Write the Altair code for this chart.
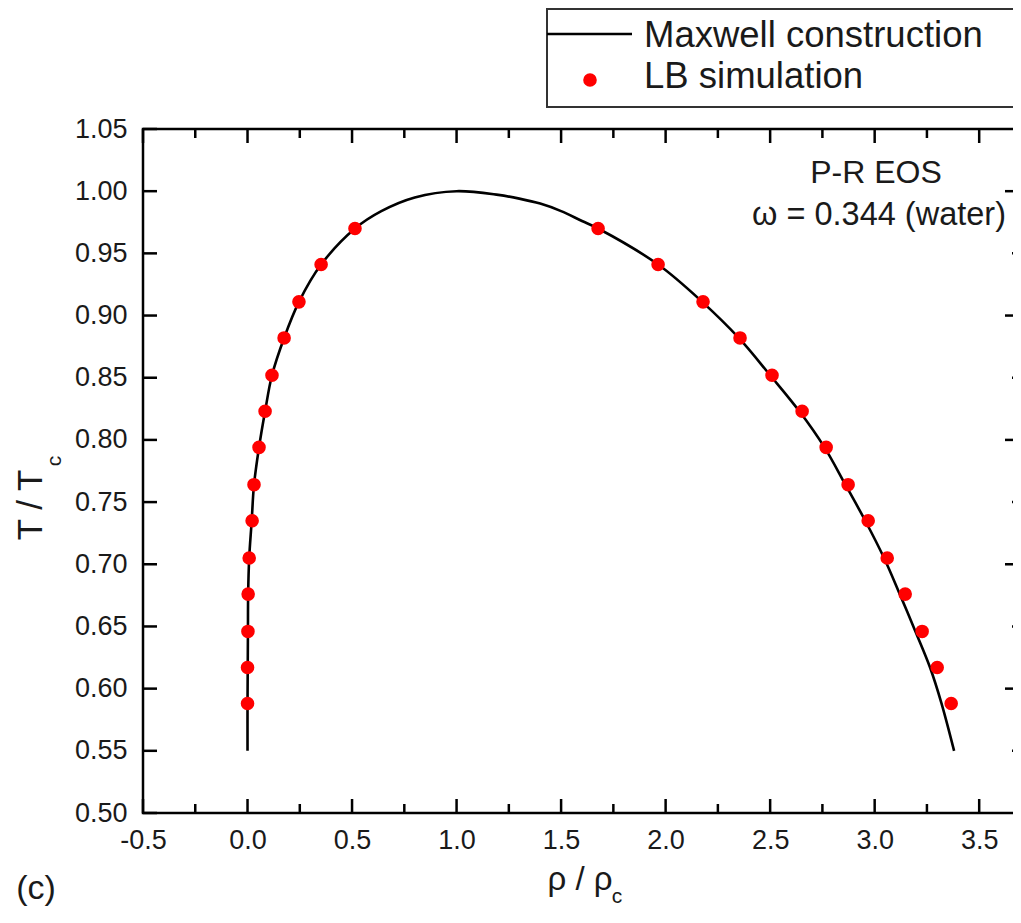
import altair as alt
import pandas as pd

# Maxwell construction curve (rho/rho_c, T/T_c), ordered along the path
rho_curve = [0.000, 0.000, 0.001, 0.002, 0.003, 0.008, 0.020, 0.031, 0.055, 0.084,
             0.117, 0.175, 0.246, 0.352, 0.514, 0.640, 0.800, 1.000, 1.200, 1.300,
             1.400, 1.500, 1.600, 1.677, 1.964, 2.175, 2.350, 2.500, 2.640, 2.760,
             2.860, 2.955, 3.045, 3.120, 3.195, 3.265, 3.320, 3.380]
T_curve = [0.550, 0.588, 0.617, 0.646, 0.676, 0.705, 0.735, 0.764, 0.794, 0.823,
           0.852, 0.882, 0.911, 0.941, 0.970, 0.984, 0.995, 1.000, 0.997, 0.994,
           0.990, 0.984, 0.976, 0.970, 0.941, 0.911, 0.882, 0.852, 0.823, 0.794,
           0.764, 0.735, 0.705, 0.676, 0.646, 0.617, 0.588, 0.550]

# LB simulation points
dot_T = [0.970, 0.941, 0.911, 0.882, 0.852, 0.823, 0.794, 0.764, 0.735, 0.705,
         0.676, 0.646, 0.617, 0.588]
dot_rho_left = [0.514, 0.352, 0.246, 0.175, 0.117, 0.084, 0.055, 0.031, 0.022, 0.008,
                0.003, 0.002, 0.000, 0.000]
dot_rho_right = [1.677, 1.964, 2.179, 2.356, 2.509, 2.653, 2.768, 2.873, 2.969, 3.060,
                 3.146, 3.227, 3.299, 3.366]

# tick positions
x_major = [-0.5, 0.0, 0.5, 1.0, 1.5, 2.0, 2.5, 3.0, 3.5]
x_minor = [-0.25, 0.25, 0.75, 1.25, 1.75, 2.25, 2.75, 3.25]
y_left_ticks = [0.50, 0.55, 0.60, 0.65, 0.70, 0.75, 0.80, 0.85, 0.90, 0.95, 1.00, 1.05]
y_right_major = [0.6, 0.7, 0.8, 0.9, 1.0]
y_right_minor = [0.55, 0.65, 0.75, 0.85, 0.95]

W, H = 878, 684
FONT = "Liberation Sans"
INK = "#1a1a1a"

curve_df = pd.DataFrame({"rho": rho_curve, "T": T_curve,
                         "order": list(range(len(rho_curve)))})
dots_df = pd.DataFrame({"rho": dot_rho_left + dot_rho_right, "T": dot_T + dot_T})
one = pd.DataFrame({"k": [0]})

xs = alt.Scale(domain=[-0.5, 3.7], nice=False, zero=False)
ys = alt.Scale(domain=[0.5, 1.05], nice=False, zero=False)

curve = alt.Chart(curve_df).mark_line(
    color="black", strokeWidth=2.6, interpolate="catmull-rom"
).encode(
    x=alt.X("rho:Q", scale=xs,
            axis=alt.Axis(values=x_major, format=".1f", title=None, ticks=False,
                          domain=False, grid=False, labelPadding=14,
                          labelExpr="replace(datum.label, '\u2212', '-')")),
    y=alt.Y("T:Q", scale=ys,
            axis=alt.Axis(values=y_left_ticks, format=".2f", title=None, ticks=False,
                          domain=False, grid=False, labelPadding=16)),
    order="order:Q",
)

dots = alt.Chart(dots_df).mark_circle(color="#ff0000", opacity=1, size=185).encode(
    x=alt.X("rho:Q", scale=xs),
    y=alt.Y("T:Q", scale=ys),
)


def xticks(vals, y0, y1):
    return alt.Chart(pd.DataFrame({"v": vals})).mark_rule(
        color="black", strokeWidth=2.5
    ).encode(x=alt.X("v:Q", scale=xs), y=alt.value(y0), y2=alt.value(y1))


def yticks(vals, x0, x1):
    return alt.Chart(pd.DataFrame({"v": vals})).mark_rule(
        color="black", strokeWidth=2.5
    ).encode(y=alt.Y("v:Q", scale=ys), x=alt.value(x0), x2=alt.value(x1))


tick_layers = [
    xticks(x_major, H, H - 14),
    xticks(x_minor, H, H - 9),
    xticks(x_major, 0, 14),
    xticks(x_minor, 0, 9),
    yticks(y_left_ticks, 0, 14),
    yticks(y_right_major, W, W - 16),
    yticks(y_right_minor, W, W - 9),
]


def label(text, x, y, size, angle=0, align="center", baseline="middle"):
    return alt.Chart(one).mark_text(
        text=text, font=FONT, fontSize=size, color=INK, angle=angle,
        align=align, baseline=baseline
    ).encode(x=alt.value(x), y=alt.value(y))


texts = [
    label("P-R EOS", 733, 44, 32),
    label("ω = 0.344 (water)", 736, 86, 32.5),
    label("T / T", -112, 376, 35, angle=270),
    label("c", -88, 332, 21, angle=270),
    label("ρ / ρ", 437, 751, 33),
    label("c", 474, 768, 21),
    label("(c)", -107, 760, 34),
]

legend_box = alt.Chart(one).mark_rect(
    fill="white", stroke="#333333", strokeWidth=2
).encode(x=alt.value(404), x2=alt.value(1000), y=alt.value(-120), y2=alt.value(-22))
legend_line = alt.Chart(one).mark_rule(color="black", strokeWidth=2.5).encode(
    x=alt.value(404), x2=alt.value(489), y=alt.value(-95))
legend_dot = alt.Chart(one).mark_circle(color="#ff0000", opacity=1, size=185).encode(
    x=alt.value(447), y=alt.value(-49))
legend_texts = [
    label("Maxwell construction", 501, -82, 36.5, align="left", baseline="alphabetic"),
    label("LB simulation", 501, -41, 36.5, align="left", baseline="alphabetic"),
]

chart = alt.layer(
    curve, dots, *tick_layers, *texts, legend_box, legend_line, legend_dot, *legend_texts
).properties(
    width=W, height=H,
    background="white",
    autosize=alt.AutoSizeParams(type="none"),
    padding={"left": 135, "top": 121, "right": -8, "bottom": 95},
).configure_view(
    stroke="black", strokeWidth=2.5
).configure_axis(
    labelFont=FONT, labelFontSize=27, labelColor=INK,
    labelFlush=False, labelOverlap=False
)

chart.save("out.html", embed_options={"renderer": "svg", "actions": False})
